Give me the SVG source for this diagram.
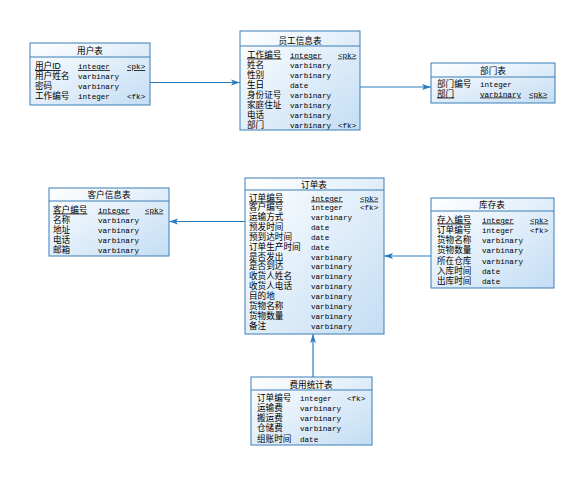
<svg xmlns="http://www.w3.org/2000/svg" width="585" height="500" viewBox="0 0 585 500">
<style>
.box{fill:url(#g);stroke:#3b7fb6;stroke-width:1}
.hl{stroke:#3b7fb6;stroke-width:1}
.t{font-family:"Liberation Sans","Noto Sans CJK SC",sans-serif;font-size:8.6px;fill:#000}
.m{font-family:"Liberation Mono","DejaVu Sans Mono",monospace;font-size:7.6px;fill:#000}
.c{text-anchor:middle}
.u{text-decoration:underline}
.ln{stroke:#2b7dc0;stroke-width:1.2;fill:none;marker-end:url(#a)}
</style>
<defs>
<linearGradient id="g" x1="0" y1="0" x2="1" y2="1">
<stop offset="0" stop-color="#ffffff"/>
<stop offset="1" stop-color="#c3ddf4"/>
</linearGradient>
<marker id="a" markerWidth="10" markerHeight="8" refX="9" refY="4" orient="auto" markerUnits="userSpaceOnUse">
<path d="M0,1 L9,4 L0,7 L2,4 Z" fill="#2b7dc0"/>
</marker>
</defs>
<rect width="585" height="500" fill="#fff"/>
<g id="connectors">
<line class="ln" x1="150" y1="82.5" x2="240" y2="82.5"/>
<line class="ln" x1="360" y1="87" x2="431" y2="87"/>
<line class="ln" x1="245" y1="221.5" x2="169" y2="221.5"/>
<line class="ln" x1="431" y1="256" x2="384" y2="256"/>
<line class="ln" x1="313" y1="377" x2="313" y2="334"/>
</g>
<g id="user">
<rect class="box" x="30" y="43" width="120" height="62"/>
<line class="hl" x1="30" y1="57" x2="150" y2="57"/>
<text class="t c" x="90" y="54">用户表</text>
<text class="t u" x="35" y="69">用户ID</text><text class="m u" x="78" y="69">integer</text><text class="m u" x="127" y="69">&lt;pk&gt;</text>
<text class="t" x="35" y="79">用户姓名</text><text class="m" x="78" y="79">varbinary</text>
<text class="t" x="35" y="89">密码</text><text class="m" x="78" y="89">varbinary</text>
<text class="t" x="35" y="99">工作编号</text><text class="m" x="78" y="99">integer</text><text class="m" x="127" y="99">&lt;fk&gt;</text>
</g>
<g id="employee">
<rect class="box" x="240" y="31" width="120" height="99"/>
<line class="hl" x1="240" y1="46" x2="360" y2="46"/>
<text class="t c" x="300" y="43.5">员工信息表</text>
<text class="t u" x="247" y="57.5">工作编号</text><text class="m u" x="290" y="57.5">integer</text><text class="m u" x="338" y="57.5">&lt;pk&gt;</text>
<text class="t" x="247" y="67.5">姓名</text><text class="m" x="290" y="67.5">varbinary</text>
<text class="t" x="247" y="77.5">性别</text><text class="m" x="290" y="77.5">varbinary</text>
<text class="t" x="247" y="87.5">生日</text><text class="m" x="290" y="87.5">date</text>
<text class="t" x="247" y="97.5">身份证号</text><text class="m" x="290" y="97.5">varbinary</text>
<text class="t" x="247" y="107.5">家庭住址</text><text class="m" x="290" y="107.5">varbinary</text>
<text class="t" x="247" y="117.5">电话</text><text class="m" x="290" y="117.5">varbinary</text>
<text class="t" x="247" y="127.5">部门</text><text class="m" x="290" y="127.5">varbinary</text><text class="m" x="338" y="127.5">&lt;fk&gt;</text>
</g>
<g id="dept">
<rect class="box" x="431" y="63" width="124" height="40"/>
<line class="hl" x1="431" y1="77" x2="555" y2="77"/>
<text class="t c" x="493" y="74">部门表</text>
<text class="t" x="437" y="86.5">部门编号</text><text class="m" x="480" y="86.5">integer</text>
<text class="t u" x="437" y="96.5">部门</text><text class="m u" x="480" y="96.5">varbinary</text><text class="m u" x="529" y="96.5">&lt;pk&gt;</text>
</g>
<g id="customer">
<rect class="box" x="49" y="188" width="120" height="68"/>
<line class="hl" x1="49" y1="201" x2="169" y2="201"/>
<text class="t c" x="109" y="198">客户信息表</text>
<text class="t u" x="53" y="212.5">客户编号</text><text class="m u" x="98" y="212.5">integer</text><text class="m u" x="145" y="212.5">&lt;pk&gt;</text>
<text class="t" x="53" y="222.5">名称</text><text class="m" x="98" y="222.5">varbinary</text>
<text class="t" x="53" y="232.5">地址</text><text class="m" x="98" y="232.5">varbinary</text>
<text class="t" x="53" y="242.5">电话</text><text class="m" x="98" y="242.5">varbinary</text>
<text class="t" x="53" y="252.5">邮箱</text><text class="m" x="98" y="252.5">varbinary</text>
</g>
<g id="order">
<rect class="box" x="245" y="178" width="139" height="156"/>
<line class="hl" x1="245" y1="190" x2="384" y2="190"/>
<text class="t c" x="314" y="187.5">订单表</text>
<text class="t u" x="249" y="200.5">订单编号</text><text class="m u" x="311" y="200.5">integer</text><text class="m u" x="360" y="200.5">&lt;pk&gt;</text>
<text class="t" x="249" y="210.3">客户编号</text><text class="m" x="311" y="210.3">integer</text><text class="m" x="360" y="210.3">&lt;fk&gt;</text>
<text class="t" x="249" y="220.2">运输方式</text><text class="m" x="311" y="220.2">varbinary</text>
<text class="t" x="249" y="230">预发时间</text><text class="m" x="311" y="230">date</text>
<text class="t" x="249" y="239.9">预到达时间</text><text class="m" x="311" y="239.9">date</text>
<text class="t" x="249" y="249.7">订单生产时间</text><text class="m" x="311" y="249.7">date</text>
<text class="t" x="249" y="259.6">是否发出</text><text class="m" x="311" y="259.6">varbinary</text>
<text class="t" x="249" y="269.4">是否到达</text><text class="m" x="311" y="269.4">varbinary</text>
<text class="t" x="249" y="279.3">收货人姓名</text><text class="m" x="311" y="279.3">varbinary</text>
<text class="t" x="249" y="289.1">收货人电话</text><text class="m" x="311" y="289.1">varbinary</text>
<text class="t" x="249" y="299">目的地</text><text class="m" x="311" y="299">varbinary</text>
<text class="t" x="249" y="308.8">货物名称</text><text class="m" x="311" y="308.8">varbinary</text>
<text class="t" x="249" y="318.7">货物数量</text><text class="m" x="311" y="318.7">varbinary</text>
<text class="t" x="249" y="328.5">备注</text><text class="m" x="311" y="328.5">varbinary</text>
</g>
<g id="stock">
<rect class="box" x="431" y="198" width="123" height="90"/>
<line class="hl" x1="431" y1="211" x2="554" y2="211"/>
<text class="t c" x="492" y="208">库存表</text>
<text class="t u" x="437" y="222.5">存入编号</text><text class="m u" x="482" y="222.5">integer</text><text class="m u" x="530" y="222.5">&lt;pk&gt;</text>
<text class="t" x="437" y="232.8">订单编号</text><text class="m" x="482" y="232.8">integer</text><text class="m" x="530" y="232.8">&lt;fk&gt;</text>
<text class="t" x="437" y="243.1">货物名称</text><text class="m" x="482" y="243.1">varbinary</text>
<text class="t" x="437" y="253.4">货物数量</text><text class="m" x="482" y="253.4">varbinary</text>
<text class="t" x="437" y="263.7">所在仓库</text><text class="m" x="482" y="263.7">varbinary</text>
<text class="t" x="437" y="274">入库时间</text><text class="m" x="482" y="274">date</text>
<text class="t" x="437" y="284.3">出库时间</text><text class="m" x="482" y="284.3">date</text>
</g>
<g id="cost">
<rect class="box" x="251" y="377" width="121" height="68"/>
<line class="hl" x1="251" y1="390" x2="372" y2="390"/>
<text class="t c" x="311" y="387.5">费用统计表</text>
<text class="t" x="257" y="400.5">订单编号</text><text class="m" x="300" y="400.5">integer</text><text class="m" x="347" y="400.5">&lt;fk&gt;</text>
<text class="t" x="257" y="410.7">运输费</text><text class="m" x="300" y="410.7">varbinary</text>
<text class="t" x="257" y="421">搬运费</text><text class="m" x="300" y="421">varbinary</text>
<text class="t" x="257" y="431.2">仓储费</text><text class="m" x="300" y="431.2">varbinary</text>
<text class="t" x="257" y="441.5">组账时间</text><text class="m" x="300" y="441.5">date</text>
</g>
</svg>
